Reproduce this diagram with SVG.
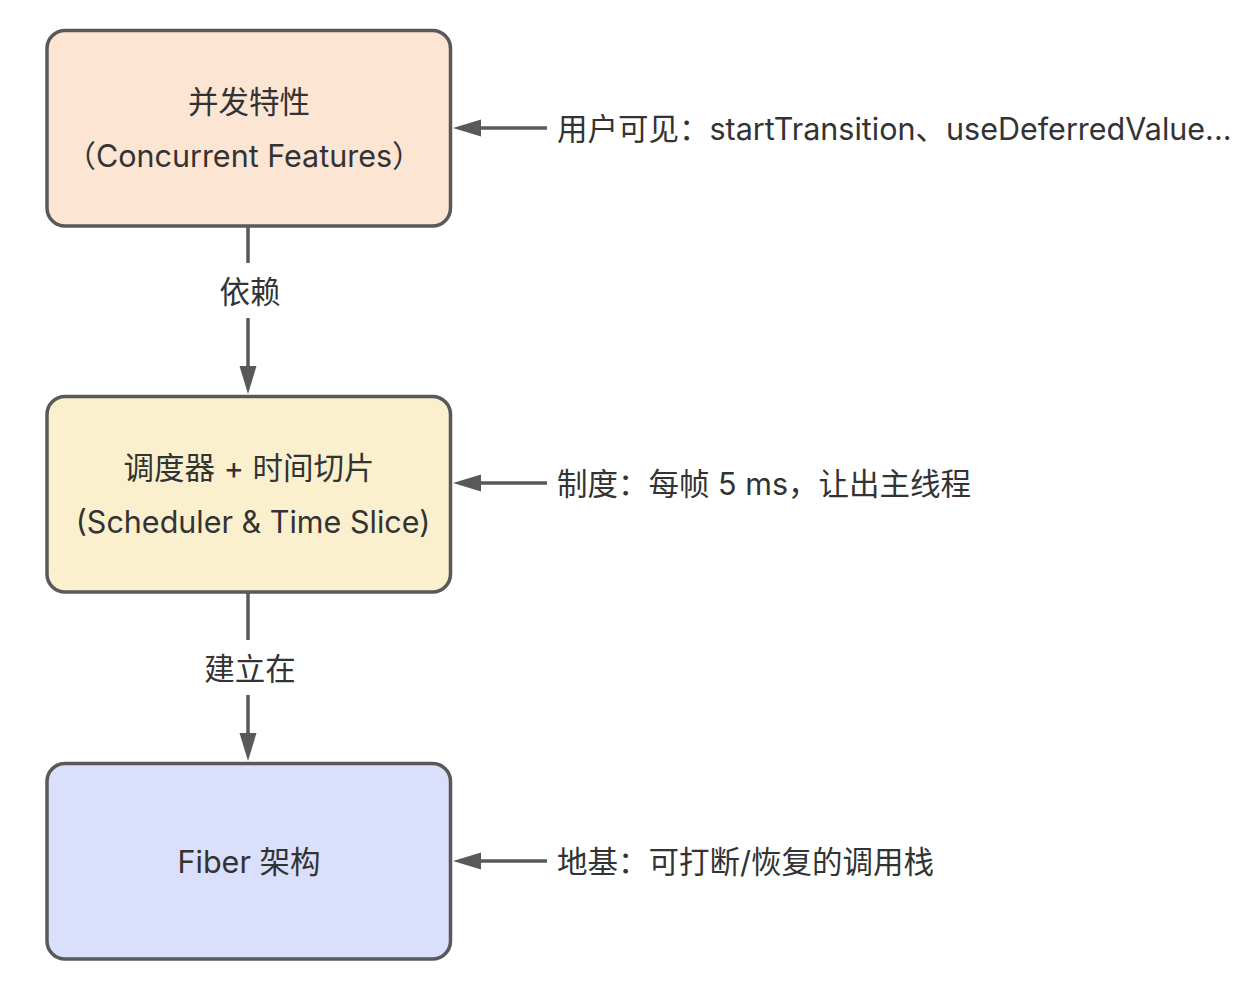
<svg xmlns="http://www.w3.org/2000/svg" width="1246" height="982" viewBox="0 0 1246 982">
<style>
.box{stroke:#595959;stroke-width:3.5}
.t{font-family:"Inter","Noto Sans CJK SC",sans-serif;font-size:30.5px;fill:#333333;text-anchor:middle;dominant-baseline:central}
.s{text-anchor:start}
.ln{stroke:#595959;stroke-width:3.5;fill:none}
.hd{fill:#595959}
</style>
<rect width="1246" height="982" fill="#ffffff"/>
<g id="connectors">
<line class="ln" x1="248" y1="227" x2="248" y2="263"/>
<line class="ln" x1="248" y1="318" x2="248" y2="370"/>
<polygon class="hd" points="239.5,366 256.5,366 248,394"/>
<text class="t" x="250" y="291">依赖</text>
<line class="ln" x1="248" y1="593" x2="248" y2="640"/>
<line class="ln" x1="248" y1="695" x2="248" y2="737"/>
<polygon class="hd" points="239.5,733 256.5,733 248,761"/>
<text class="t" x="250" y="668">建立在</text>
<line class="ln" x1="547" y1="128" x2="478" y2="128"/>
<polygon class="hd" points="481,119.5 481,136.5 453,128"/>
<text class="t s" x="557" y="128">用户可见：startTransition、useDeferredValue...</text>
<line class="ln" x1="547" y1="483" x2="478" y2="483"/>
<polygon class="hd" points="481,474.5 481,491.5 453,483"/>
<text class="t s" x="557" y="483">制度：每帧 5 ms，让出主线程</text>
<line class="ln" x1="547" y1="861" x2="478" y2="861"/>
<polygon class="hd" points="481,852.5 481,869.5 453,861"/>
<text class="t s" x="557" y="861">地基：可打断/恢复的调用栈</text>
</g>
<g id="node-concurrent">
<rect class="box" x="47" y="30.5" width="403.5" height="195.5" rx="18" fill="#fde5d4"/>
<text class="t" x="249" y="101">并发特性</text>
<text class="t" x="244" y="155">（Concurrent Features）</text>
</g>
<g id="node-scheduler">
<rect class="box" x="47" y="396.5" width="403.5" height="195.5" rx="18" fill="#faf0ce"/>
<text class="t" x="249" y="467">调度器 + 时间切片</text>
<text class="t" x="253" y="521">(Scheduler &amp; Time Slice)</text>
</g>
<g id="node-fiber">
<rect class="box" x="47" y="763.5" width="403.5" height="195.5" rx="18" fill="#dadffb"/>
<text class="t" x="249" y="861">Fiber 架构</text>
</g>
</svg>
